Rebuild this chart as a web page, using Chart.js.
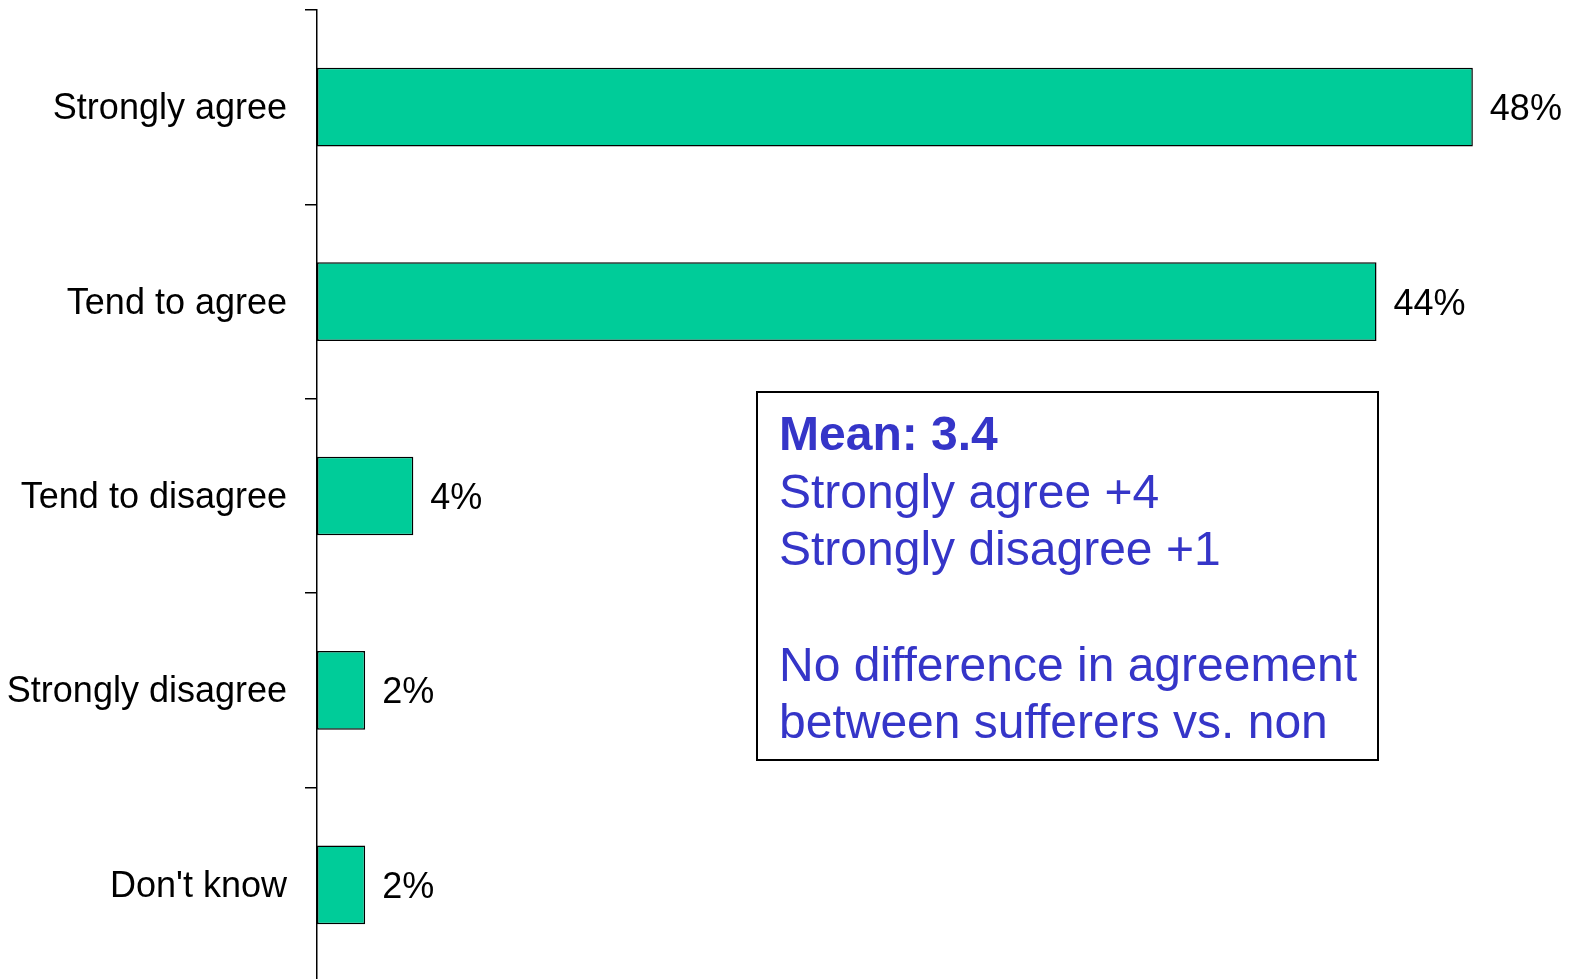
<!DOCTYPE html>
<html>
<head>
<meta charset="utf-8">
<script src="https://cdn.jsdelivr.net/npm/chart.js@4"></script>
<style>
  html, body { margin: 0; padding: 0; background: #fff; overflow: hidden; }
  #wrap { width: 1579px; height: 982px; position: relative; }
</style>
</head>
<body>
<div id="wrap"><canvas id="agreeChart"></canvas></div>
<script>
const categories = ["Strongly agree", "Tend to agree", "Tend to disagree", "Strongly disagree", "Don't know"];
const percentValues = [48, 44, 4, 2, 2];
const boxLines = ["Mean: 3.4", "Strongly agree +4", "Strongly disagree +1", "", "No difference in agreement", "between sufferers vs. non"];

const FONT = "'Liberation Sans', Arial, sans-serif";

// percent labels to the right of each bar
const valueLabels = {
  id: "valueLabels",
  afterDatasetsDraw(chart) {
    const ctx = chart.ctx;
    const meta = chart.getDatasetMeta(0);
    ctx.save();
    ctx.font = "36px " + FONT;
    ctx.fillStyle = "#000";
    ctx.textAlign = "left";
    ctx.textBaseline = "middle";
    meta.data.forEach((bar, i) => {
      ctx.fillText(percentValues[i] + "%", bar.x + 17, bar.y + 3);
    });
    ctx.restore();
  }
};

// the note box in the middle
const noteBox = {
  id: "noteBox",
  afterDraw(chart) {
    const ctx = chart.ctx;
    ctx.save();
    ctx.strokeStyle = "#000";
    ctx.lineWidth = 2;
    ctx.fillStyle = "#fff";
    ctx.fillRect(757, 392, 621, 368);
    ctx.strokeRect(757, 392, 621, 368);
    ctx.fillStyle = "#3535c8";
    ctx.textBaseline = "middle";
    boxLines.forEach((line, i) => {
      ctx.font = (i === 0 ? "bold " : "") + "48px " + FONT;
      ctx.fillText(line, 779, 437 + i * 57.6);
    });
    ctx.restore();
  }
};

const ctx = document.getElementById("agreeChart").getContext("2d");
new Chart(ctx, {
  type: "bar",
  data: {
    labels: categories,
    datasets: [
      {
        data: percentValues,
        backgroundColor: "#00cc99",
        borderColor: "#000",
        borderWidth: 1.5,
        borderSkipped: false,
        barPercentage: 0.405,
        categoryPercentage: 1,
      },
    ],
  },
  options: {
    indexAxis: "y",
    animation: false,
    responsive: true,
    maintainAspectRatio: false,
    layout: {
      padding: { top: 10, right: 58, bottom: 0, left: 0 },
    },
    plugins: {
      legend: { display: false },
      tooltip: { enabled: false },
    },
    scales: {
      x: {
        display: false,
        min: 0,
        max: 50,
      },
      y: {
        afterFit: function (scale) {
          scale.width = 317;
          scale.paddingTop = 0;
          scale.paddingBottom = 0;
        },
        ticks: {
          color: "#000",
          padding: 18,
          labelOffset: 2,
          font: { family: FONT, size: 36 },
        },
        grid: {
          offset: true,
          drawOnChartArea: false,
          tickLength: 12,
          color: "#000",
          lineWidth: 1.5,
        },
        border: {
          display: true,
          color: "#000",
          width: 1.5,
        },
      },
    },
  },
  plugins: [valueLabels, noteBox],
});
</script>
</body>
</html>
